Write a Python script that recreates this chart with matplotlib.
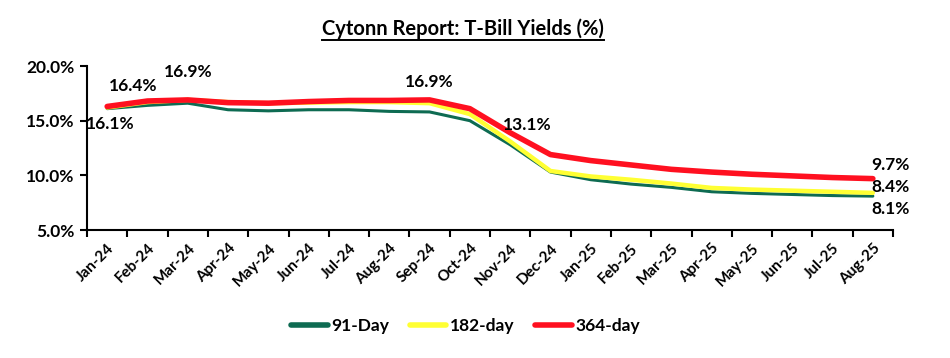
import matplotlib
matplotlib.use('Agg')
import matplotlib.pyplot as plt
import matplotlib.ticker as ticker
from matplotlib.lines import Line2D

plt.rcParams['font.family'] = ['Lato', 'DejaVu Sans']
plt.rcParams['font.weight'] = 'bold'

months = ['Jan-24', 'Feb-24', 'Mar-24', 'Apr-24', 'May-24', 'Jun-24', 'Jul-24',
          'Aug-24', 'Sep-24', 'Oct-24', 'Nov-24', 'Dec-24', 'Jan-25', 'Feb-25',
          'Mar-25', 'Apr-25', 'May-25', 'Jun-25', 'Jul-25', 'Aug-25']

day91 = [16.1, 16.4, 16.6, 16.0, 15.9, 16.0, 16.0, 15.85, 15.8, 15.0, 12.8, 10.3,
         9.6, 9.2, 8.9, 8.5, 8.35, 8.25, 8.15, 8.1]
day182 = [16.2, 16.7, 16.9, 16.7, 16.6, 16.65, 16.7, 16.7, 16.6, 15.6, 13.1, 10.4,
          9.9, 9.6, 9.25, 8.85, 8.7, 8.6, 8.5, 8.4]
day364 = [16.3, 16.8, 16.9, 16.65, 16.6, 16.75, 16.85, 16.85, 16.9, 16.1, 13.9, 11.9,
          11.35, 10.95, 10.55, 10.3, 10.1, 9.95, 9.8, 9.7]

# which points carry a value label: (series, month index, offset in points)
labels = [('91', 0, (2, -11)), ('91', 1, (-10, 14)), ('364', 2, (0, 20)),
          ('364', 8, (0, 13)), ('182', 10, (12, 12)),
          ('364', 19, (13, 10)), ('182', 19, (13, 4)), ('91', 19, (13, -9))]

series = {'91': (day91, '#0E6B52', 2.2, '91-Day'),
          '182': (day182, '#FFFF33', 3.2, '182-day'),
          '364': (day364, '#FF1020', 4.0, '364-day')}

fig = plt.figure(figsize=(9.5, 3.58), dpi=100)
ax = fig.add_axes([0.0916, 0.3575, 0.8484, 0.4581])

x = list(range(len(months)))
for key in ['91', '182', '364']:
    vals, col, lw, name = series[key]
    ax.plot(x, vals, color=col, linewidth=lw, label=name, solid_capstyle='round')

for key, i, off in labels:
    v = series[key][0][i]
    ax.annotate(f'{v:.1f}%', (i, v), xytext=off, textcoords='offset points',
                ha='center', va='center', fontsize=12.5, fontweight='bold')

ax.set_xlim(-0.5, len(months) - 0.5)
ax.set_ylim(5, 20)
ax.yaxis.set_major_locator(ticker.MultipleLocator(5))
ax.yaxis.set_major_formatter(ticker.FuncFormatter(lambda v, p: f'{v:.1f}%'))
ax.set_xticks([i - 0.5 for i in range(len(months) + 1)])
ax.set_xticklabels([])
ax.set_xticks(x, minor=True)
ax.set_xticklabels(months, minor=True, rotation=45, ha='right',
                   rotation_mode='anchor', fontsize=11, fontweight='bold')
ax.tick_params(axis='x', which='minor', length=0, pad=8)
ax.tick_params(axis='both', which='major', length=5, width=1.5, direction='out')
ax.tick_params(axis='y', labelsize=12.5, pad=4)
for t in ax.get_yticklabels():
    t.set_fontweight('bold')

for s in ['top', 'right']:
    ax.spines[s].set_visible(False)
for s in ['left', 'bottom']:
    ax.spines[s].set_linewidth(1.5)

title = fig.text(0.487, 0.92, 'Cytonn Report: T-Bill Yields (%)', ha='center',
                 va='center', fontsize=14.5, fontweight='bold')
fig.canvas.draw()
bb = title.get_window_extent().transformed(fig.transFigure.inverted())
fig.add_artist(Line2D([bb.x0, bb.x1], [bb.y0 - 0.003, bb.y0 - 0.003],
                      color='black', linewidth=1.4, transform=fig.transFigure))

leg = fig.legend(loc='center', bbox_to_anchor=(0.49, 0.089), ncol=3, frameon=False,
                 fontsize=12.5, handlelength=2.1, handletextpad=0.2, columnspacing=1.2)
for h in leg.get_lines():
    h.set_linewidth(4)

fig.savefig('out.png', dpi=100)
